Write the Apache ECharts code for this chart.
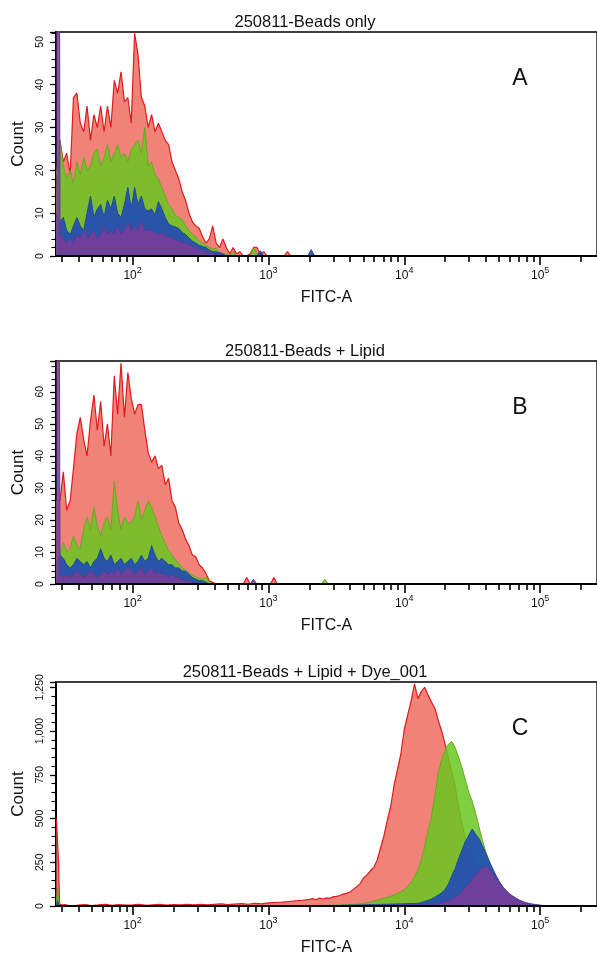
<!DOCTYPE html>
<html><head><meta charset="utf-8">
<script src="https://cdn.jsdelivr.net/npm/echarts@6/dist/echarts.min.js"></script>
<style>html,body{margin:0;padding:0;background:#fff}#c{width:597px;height:958px}</style>
</head><body><div id="c"></div>
<script>
// ---------- DATA ----------
// histogram bin centres (FITC-A) for panels A and B
const binsAB = [27.5,29.2,30.9,32.7,34.7,36.7,38.9,41.2,43.7,46.2,
49.0,51.9,55.0,58.2,61.7,65.3,69.2,73.3,77.6,82.2,
87.1,92.3,97.7,103.5,109.6,116.1,123.0,130.3,138.0,146.2,
154.9,164.1,173.8,184.1,195.0,206.5,218.8,231.7,245.5,260.0,
275.4,291.7,309.0,327.3,346.7,367.3,389.0,412.1,436.5,462.4,
489.8,518.8,549.5,582.1,616.6,653.1,691.8,732.8,776.2,822.2,
871.0,922.6,977.2,1035,1096,1161,1230,1303,1380,1462,
1549,1641,1738,1841,1950,2065,2188,2317,2455,2600,
2754];
// Panel A: 250811-Beads only
const redA = [13,27,22,24,19,37,38,31,29,35, 27,33,30,35,29,35,30,41,38,43, 36,37,31,52,47,37,35,30,33,29,
31,29,27,26,22,20,18,15,13,10, 8,7,6.5,4.5,3,4,7,3,2,4, 2,0.5,2,0.5,1,0,0,0.5,2,2,
0.5,1,0,0,0,0,0,0,1,0, 0,0,0,0,0,0,0,0,0,0, 0];
const greenA = [19,27,21,18,20,17,22,19,23,20, 21,24,25,21,23,26,22,24,26,23, 24,22,25,26,27,24,30,21,22,19,
18,16,14,12,11,9.5,9,8.5,7,6, 5,4.5,3.5,3,2.5,2,1.5,1.8,0.5,0.5, 0.5,0,1,0,0,0,0,0,2,0.5,
0,0,0,0,0,0,0,0,0,0, 0,0,0,0,0,0,0,0,0,0, 0];
const blueA = [10,8,9,6,5,7,9,7,6,10, 14,9,11,12,9,13,11,14,10,9, 12,16,11,16,12,14,11,10.5,11,9.5,
12.7,11,9,7.5,7,6.8,6.4,5.5,5,4.2, 3.5,3,2.5,2.2,2,1.4,1,1,0.8,0.5, 0,0,0,0,0,0,0,0,0,0,
1.2,0,0,0,0,0,0,0,0,0, 0,0,0,0,0,1.5,0,0,0,0, 0];
const purpleA = [500,5,4,3,4,3,5,4,6,4, 5,6,4,5,7,5,6,5,7,5, 6,8,6,7,6,8,6,6,6,5.5,
5,5.5,4.5,4.5,4,3.8,3.5,3.2,3,2.8, 2.2,1.8,1.5,1.2,1,0.8,0.6,0.4,0,0, 0,0,0,0,0,0,0,0,0,0,
0,0,0,0,0,0,0,0,0,0, 0,0,0,0,0,0,0,0,0,0, 0];
// Panel B: 250811-Beads + Lipid
const redB = [26,26,35,23,26,36,47,52,45,40, 51,59,48,57,43,50,40,65,53,69, 52,66,58,53,56,56,48,41,38,40,
36,37,31,33,26,24,19,17,14,12, 9,8.5,6,5,3.3,1,0.5,0,0,0, 0,0,0,0,0,0,2,0,0,0,
0,0,0,0,2,0,0,0,0,0, 0,0,0,0,0,0,0,0,0,0, 0];
const greenB = [8,9,13,10,11,15,12,11,17,21, 17,24,18,15,19,21,17,32,23,17, 21,19,19,21,26,20,23,26,24,21,
18,15,12.7,10.6,9,7.5,6.5,5,4.3,3.5, 2.8,2.2,1.7,1.4,2.2,0.7,0,0,0,0, 0,0,0,0,0,0,0,0,0,0,
0,0,0,0,0,0,0,0,0,0, 0,0,0,0,0,0,0,0,0,1.5, 0];
const blueB = [7,9,8,6,5,6,8,7,6,7, 5,7,8,11,8,7,9,6,7,8, 6,7,8,6,7,9,7,8,12,9,
7,8,7,6,6,5,5,4,4,3, 2,1.5,1,1,0.5,0,0,0,0,0, 0,0,0,0,0,0,0,0,0,0,
0,0,0,0,0,0,0,0,0,0, 0,0,0,0,0,0,0,0,0,0, 0];
const purpleB = [500,3,2,3,2,3,4,3,2,3, 4,3,2,3,4,3,4,3,5,3, 4,5,4,3,4,5,3,4,5,3,
4,3,3,2,3,2,2,1.5,1,1, 0.5,0,0,0,0,0,0,0,0,0, 0,0,0,0,0,0,0,0,1.5,0,
0,0,0,0,0,0,0,0,0,0, 0,0,0,0,0,0,0,0,0,0, 0];
// Panel C: 250811-Beads + Lipid + Dye_001
const binsC = [27.5,28,28.5,29,30,
31.6,35.5,39.8,44.7,50.1,56.2,63.1,70.8,79.4,89.1,
100,112,126,141,158,178,200,224,251,282,
316,355,398,447,501,562,631,708,794,891,
1000,1122,1259,1413,1585,1778,
1995,2113,2239,2371,2512,2661,2818,2985,3162,3350,
3548,3758,3981,4217,4467,4732,5012,5309,5623,5957,
6310,6683,7079,7499,7943,8414,8913,9441,10000,10593,
11220,11885,12589,13335,14125,14962,15849,16788,17783,18836,
19953,21135,22387,23714,25119,26607,28184,29854,31623,33497,
35481,37584,39811,42170,44668,47315,50119,53088,56234,59566,
63096,66834,70795,74989,79433,84140,89125,94406,100000,105925,
112202,125893,158489,199526];
const redC = [500,500,250,12,6,
8,0,5,8,3,6,10,4,8,5, 6,9,4,7,10,5,8,6,9,7, 10,6,9,12,8,11,14,10,15,12, 18,20,22,25,30,33,
38,42,36,45,40,46,44,52,55,60, 68,72,80,95,110,128,160,178,200,220, 262,330,400,490,570,690,780,870,1010,1090,
1170,1270,1185,1225,1250,1205,1165,1130,1060,1000, 925,840,760,680,560,470,385,330,280,245,
206,178,150,128,108,92,80,68,55,42, 32,24,18,13,10,8,6,4,3,2, 1,
0,0,0];
const greenC = [0,100,40,3,0,
0,2,0,1,3,0,2,1,0,3, 1,2,0,2,3,1,0,2,1,3, 2,1,3,2,1,3,2,4,2,3, 2,3,4,2,3,3,
2,3,2,4,3,5,4,5,6,5, 7,8,9,9,10,12,15,18,22,28, 32,38,45,50,56,63,72,82,92,112,
135,168,205,260,340,430,510,630,760,835, 890,925,940,905,850,790,720,650,600,530,
453,375,310,260,205,160,130,105,85,65, 50,38,28,20,15,10,7,5,3,2, 1,
0,0,0];
const blueC = [0,30,10,0,0,
0,1,0,0,2,0,1,0,0,1, 0,2,0,1,0,0,1,0,2,1, 0,1,0,2,1,0,1,2,1,0, 2,1,1,2,1,1,
1,1,2,1,2,2,3,2,3,3, 4,4,5,5,6,6,7,7,8,8, 9,9,10,10,11,11,12,12,13,13,
14,14,15,20,26,32,40,50,62,75, 95,125,175,215,270,320,370,405,440,410,
385,345,300,255,215,175,140,110,85,65, 50,38,28,20,15,10,7,5,3,2, 1,
0,0,0];
const purpleC = [0,0,0,0,0,
0,0,1,0,0,1,0,0,0,1, 0,0,1,0,0,0,1,0,0,1, 0,0,0,1,0,1,0,0,1,0, 1,0,1,0,1,1,
0,1,0,1,1,0,1,1,1,2, 1,2,2,2,3,2,3,3,3,4, 3,4,4,4,5,4,5,5,5,6,
5,6,6,6,7,7,8,10,14,18, 24,30,38,50,65,85,105,128,152,178,
200,218,228,212,188,160,132,108,88,70, 56,44,33,25,19,14,10,7,5,3, 2,
0,0,0];

// axes / labels
const panelTitles = ['250811-Beads only', '250811-Beads + Lipid', '250811-Beads + Lipid + Dye_001'];
const panelLetters = ['A', 'B', 'C'];
const yMaxes = [52.3, 69.6, 1280];
const yIntervals = [10, 10, 250];
const xMin = 27.3, xMax = 262144;
const xMajorExponents = [2, 3, 4, 5];
const xMinorTicks = [30,40,50,60,70,80,90,200,300,400,500,600,700,800,900,
  2000,3000,4000,5000,6000,7000,8000,9000,20000,30000,40000,50000,60000,70000,80000,90000,200000];
const xAxisName = 'FITC-A', yAxisName = 'Count';

// ---------- CHART ----------
const FONT = '"Liberation Sans", Arial, sans-serif';
const NARROW = '"Liberation Sans Narrow", "Liberation Sans", Arial, sans-serif';
const gridTops = [32, 361, 682], gridHeights = [224, 223, 224];
const styles = [
  {line: '#e01a1e', fill: '#f08278', op: 1, w: 1.2},
  {line: '#6aa824', fill: 'rgb(105,200,32)', op: 0.85, w: 1},
  {line: '#1d4a9a', fill: 'rgb(28,71,187)', op: 0.88, w: 1},
  {line: '#5e3a94', fill: 'rgb(120,62,153)', op: 0.88, w: 1}
];
const panels = [
  {x: binsAB, ys: [redA, greenA, blueA, purpleA]},
  {x: binsAB, ys: [redB, greenB, blueB, purpleB]},
  {x: binsC, ys: [redC, greenC, blueC, purpleC]}
];
const lmin = Math.log10(xMin), lmax = Math.log10(xMax);
const grid = [], xAxis = [], yAxis = [], series = [], graphic = [];
panels.forEach((p, k) => {
  grid.push({left: 56, top: gridTops[k], width: 551, height: gridHeights[k], show: true,
    borderColor: '#000', borderWidth: 1.3, backgroundColor: 'transparent'});
  xAxis.push({type: 'log', logBase: 10, gridIndex: k, position: 'bottom', min: xMin, max: xMax, z: 10,
    axisLine: {show: true, lineStyle: {color: '#000', width: 2}}, axisTick: {show: false},
    axisLabel: {show: false}, splitLine: {show: false},
    name: xAxisName, nameLocation: 'middle', nameGap: 34,
    nameTextStyle: {fontSize: 16, color: '#111', fontFamily: FONT}});
  xAxis.push({type: 'value', gridIndex: k, position: 'bottom', min: lmin, max: lmax,
    axisLine: {show: false}, splitLine: {show: false}, axisLabel: {show: false},
    axisTick: {show: true, length: 6, lineStyle: {color: '#000', width: 1.6},
      customValues: xMinorTicks.map(v => Math.log10(v))}});
  xAxis.push({type: 'value', gridIndex: k, position: 'bottom', min: lmin, max: lmax,
    axisLine: {show: false}, splitLine: {show: false},
    axisTick: {show: true, length: 9, lineStyle: {color: '#000', width: 1.6}, customValues: xMajorExponents},
    axisLabel: {show: true, customValues: xMajorExponents, margin: 10,
      formatter: v => '{b|10}{s|' + Math.round(v) + '}',
      rich: {
        b: {fontSize: 12, fontFamily: NARROW, color: '#111', lineHeight: 16, verticalAlign: 'bottom'},
        s: {fontSize: 9, fontFamily: NARROW, color: '#111', lineHeight: 16, verticalAlign: 'top', padding: [0, 0, 6, 0]}
      }}});
  yAxis.push({type: 'value', gridIndex: k, min: 0, max: yMaxes[k], interval: yIntervals[k],
    axisLine: {show: true, lineStyle: {color: '#000', width: 2}},
    axisTick: {show: true, length: 6, lineStyle: {color: '#000', width: 1.3}},
    minorTick: {show: true, splitNumber: 5, length: 4.5, lineStyle: {color: '#000', width: 1.1}},
    splitLine: {show: false}, minorSplitLine: {show: false},
    axisLabel: {rotate: 90, fontSize: 10.5, color: '#111', fontFamily: FONT, margin: 10, showMaxLabel: false,
      formatter: v => v.toLocaleString('en-US')},
    name: yAxisName, nameLocation: 'middle', nameGap: 27,
    nameTextStyle: {fontSize: 17, color: '#111', fontFamily: FONT}});
  p.ys.forEach((ys, j) => {
    series.push({type: 'line', xAxisIndex: 3 * k, yAxisIndex: k,
      data: p.x.map((x, i) => [x, ys[i]]), symbol: 'none', showSymbol: false, clip: true, z: 2 + j,
      lineStyle: {color: styles[j].line, width: styles[j].w},
      areaStyle: {color: styles[j].fill, opacity: styles[j].op}, animation: false});
  });
  graphic.push({type: 'text', x: 305, y: gridTops[k] - 10, style: {text: panelTitles[k], fill: '#111',
    font: '16.5px ' + FONT, align: 'center', verticalAlign: 'middle'}});
  graphic.push({type: 'text', x: 520, y: gridTops[k] + 47, style: {text: panelLetters[k], fill: '#111',
    font: '23px ' + FONT, align: 'center', verticalAlign: 'middle'}});
});
const chart = echarts.init(document.getElementById('c'), null, {renderer: 'canvas'});
chart.setOption({animation: false, backgroundColor: '#fff', grid, xAxis, yAxis, series, graphic});
</script></body></html>
